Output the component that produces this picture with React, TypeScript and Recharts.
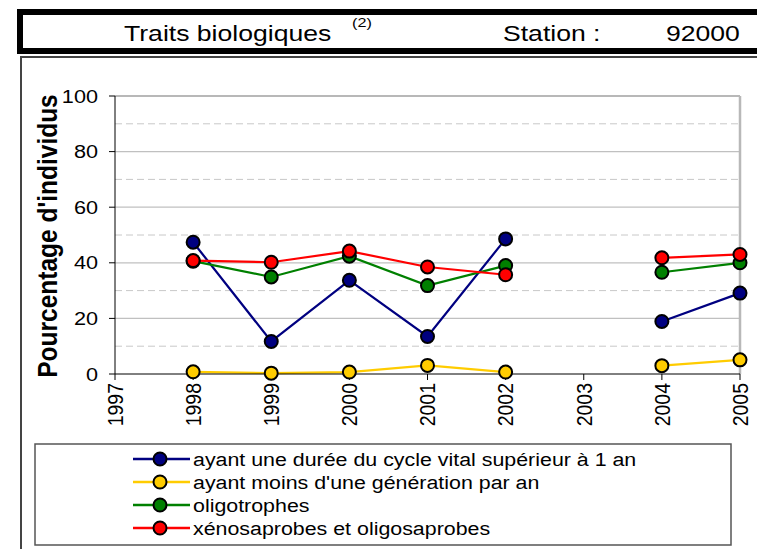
import React from 'react';
import {
  LineChart,
  Line,
  XAxis,
  YAxis,
  ReferenceLine,
} from 'recharts';

// years on the axis, and the years that carry measurements (2003 missing)
const axisYears = [1997, 1998, 1999, 2000, 2001, 2002, 2003, 2004, 2005];
const years = [1998, 1999, 2000, 2001, 2002, 2003, 2004, 2005];

const cycleLong = [47.4, 11.7, 33.7, 13.5, 48.6, null, 18.9, 29.1];
const moinsGeneration = [0.8, 0.3, 0.7, 3.1, 0.7, null, 3.0, 5.1];
const oligotrophes = [40.6, 34.9, 42.4, 31.8, 39.0, null, 36.6, 40.0];
const xenosaprobes = [40.8, 40.2, 44.2, 38.5, 35.7, null, 41.8, 43.0];

const yTicks = [0, 20, 40, 60, 80, 100];
const gridSolid = [20, 40, 60, 80];
const gridDashed = [10, 30, 50, 70, 90];

const FONT = '"Liberation Sans", Arial, sans-serif';
const STRETCH = 1.14;

const series = [
  { key: 'cycle', name: 'ayant une durée du cycle vital supérieur à 1 an', color: '#000080', values: cycleLong },
  { key: 'moins', name: "ayant moins d'une génération par an", color: '#FFCC00', values: moinsGeneration },
  { key: 'oligo', name: 'oligotrophes', color: '#008000', values: oligotrophes },
  { key: 'xeno', name: 'xénosaprobes et oligosaprobes', color: '#FF0000', values: xenosaprobes },
];

const data = years.map((year, i) => {
  const row: Record<string, number | null> = { year };
  series.forEach(s => {
    row[s.key] = s.values[i];
  });
  return row;
});

const XTick = (props: any) => {
  const { x, y, payload } = props;
  return (
    <text
      transform={`translate(${x},${y}) scale(${STRETCH},1) rotate(-90)`}
      textAnchor="end"
      dy="0.35em"
      fontSize={19.5}
      fontFamily={FONT}
      fill="#000"
    >
      {payload.value}
    </text>
  );
};

const YTick = (props: any) => {
  const { x, y, payload } = props;
  return (
    <text
      transform={`translate(${x},${y}) scale(${STRETCH},1)`}
      textAnchor="end"
      dy="0.35em"
      fontSize={19}
      fontFamily={FONT}
      fill="#000"
    >
      {payload.value}
    </text>
  );
};

const Decorations = () => (
  <svg
    width={757}
    height={549}
    style={{ position: 'absolute', left: 0, top: 0 }}
    fontFamily={FONT}
  >
    {/* header box */}
    <rect x={20} y={12} width={800} height={39} fill="#fff" stroke="#000" strokeWidth={6} />
    <g transform="translate(124,41) scale(1.22,1)">
      <text fontSize={21.8}>Traits biologiques</text>
    </g>
    <g transform="translate(352,27) scale(1.2,1)">
      <text fontSize={13.5}>(2)</text>
    </g>
    <g transform="translate(503,41) scale(1.22,1)">
      <text fontSize={21.8}>Station :</text>
    </g>
    <g transform="translate(666,41) scale(1.22,1)">
      <text fontSize={21.8}>92000</text>
    </g>

    {/* outer frame */}
    <path d="M21,600 L21,57 L800,57" fill="none" stroke="#444" strokeWidth={2} />

    {/* y axis title */}
    <g transform={`translate(47,236) scale(${STRETCH},1) rotate(-90)`}>
      <text textAnchor="middle" dy="0.35em" fontSize={24.5} fontWeight="bold">
        Pourcentage d'individus
      </text>
    </g>

    {/* legend */}
    <rect x={35} y={444} width={696} height={101} fill="#fff" stroke="#555" strokeWidth={1.5} />
    {series.map((s, i) => {
      const cy = 459 + i * 23;
      return (
        <g key={s.key}>
          <line x1={133} x2={190} y1={cy} y2={cy} stroke={s.color} strokeWidth={2.5} />
          <circle cx={160} cy={cy} r={6.5} fill={s.color} stroke="#000" strokeWidth={2} />
          <g transform={`translate(193,${cy + 6.5}) scale(1.15,1)`}>
            <text fontSize={18.6}>{s.name}</text>
          </g>
        </g>
      );
    })}
  </svg>
);

export default function App() {
  return (
    <div
      style={{
        position: 'absolute',
        left: 0,
        top: 0,
        width: 757,
        height: 549,
        overflow: 'hidden',
        background: '#fff',
      }}
    >
      <Decorations />
      <div style={{ position: 'absolute', left: 0, top: 0 }}>
        <LineChart
          width={757}
          height={549}
          data={data}
          margin={{ top: 96, right: 17, bottom: 115, left: 45 }}
        >
          {gridDashed.map(v => (
            <ReferenceLine key={`d${v}`} y={v} stroke="#c8c8c8" strokeDasharray="7 4" strokeWidth={1} />
          ))}
          {gridSolid.map(v => (
            <ReferenceLine key={`s${v}`} y={v} stroke="#c0c0c0" strokeWidth={1.2} />
          ))}
          <ReferenceLine y={100} stroke="#b8b8b8" strokeWidth={2} />
          <ReferenceLine x={2005} stroke="#b8b8b8" strokeWidth={2.5} />
          <XAxis
            type="number"
            dataKey="year"
            domain={[1997, 2005]}
            ticks={axisYears}
            interval={0}
            height={60}
            tickSize={6}
            tickMargin={3}
            stroke="#000"
            tickLine={{ stroke: '#000' }}
            tick={<XTick />}
          />
          <YAxis
            type="number"
            domain={[0, 100]}
            ticks={yTicks}
            interval={0}
            width={70}
            tickSize={6}
            tickMargin={11}
            stroke="#000"
            tickLine={{ stroke: '#000' }}
            tick={<YTick />}
          />
          {series.map(s => (
            <Line
              key={s.key}
              dataKey={s.key}
              name={s.name}
              stroke={s.color}
              strokeWidth={2.2}
              dot={{ r: 6.5, fill: s.color, stroke: '#000', strokeWidth: 2 }}
              activeDot={false}
              connectNulls={false}
              isAnimationActive={false}
            />
          ))}
        </LineChart>
      </div>
    </div>
  );
}
